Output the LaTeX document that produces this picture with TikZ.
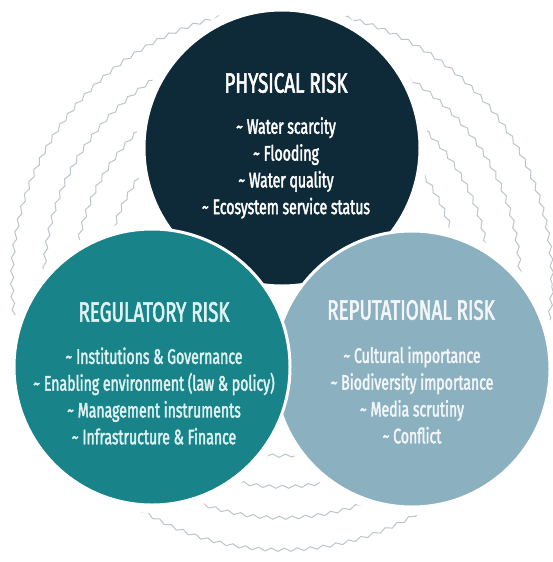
\documentclass[tikz,border=0pt]{standalone}
\usepackage{fontspec}
\setmainfont{Fira Sans}[FakeStretch=0.67, FakeBold=2]
\usetikzlibrary{decorations.pathmorphing}
\definecolor{navyc}{RGB}{14,42,57}
\definecolor{tealc}{RGB}{24,131,136}
\definecolor{lightc}{RGB}{139,176,191}
\definecolor{ringc}{RGB}{188,197,202}
\definecolor{tealtxt}{RGB}{222,242,242}
\definecolor{lighttxt}{RGB}{242,246,248}
\begin{document}
\begin{tikzpicture}[x=1pt,y=-1pt,
  ring/.style={draw=ringc, line width=1pt, decorate,
    decoration={snake, segment length=13pt, amplitude=1.6pt}},
  bigcircle/.style={circle, minimum size=276pt, draw=white, line width=3pt, inner sep=0pt},
  titletxt/.style={font=\fontsize{28}{30}\selectfont, inner sep=0pt},
  itemtxt/.style={font=\fontsize{21}{26.8}\selectfont, align=center, inner sep=0pt}]
\useasboundingbox (0,0) rectangle (553,562);
\fill[white] (0,0) rectangle (553,562);
% wavy rings
\foreach \r in {176,207,238,270}
  \draw[ring] (282,283) circle (\r pt);
% white halos
\fill[white] (282,148) circle (146pt);
\fill[white] (412,369) circle (146pt);
\fill[white] (152,367) circle (146pt);
% circles
\node[bigcircle, fill=navyc] (phys) at (282,148) {};
\node[bigcircle, fill=lightc] (repu) at (412,369) {};
\node[bigcircle, fill=tealc] (regu) at (152,367) {};
% texts
\node[titletxt, text=white] (physt) at (286,83) {PHYSICAL RISK};
\node[itemtxt, text=white] (physi) at (286,168) {\textasciitilde{} Water scarcity\\ \textasciitilde{} Flooding\\ \textasciitilde{} Water quality\\ \textasciitilde{} Ecosystem service status};
\node[titletxt, text=tealtxt] (regut) at (154,312) {REGULATORY RISK};
\node[itemtxt, text=tealtxt] (regui) at (154,396) {\textasciitilde{} Institutions \& Governance\\ \textasciitilde{} Enabling environment (law \& policy)\\ \textasciitilde{} Management instruments\\ \textasciitilde{} Infrastructure \& Finance};
\node[titletxt, text=lighttxt] (reput) at (411,310) {REPUTATIONAL RISK};
\node[itemtxt, text=lighttxt] (repui) at (412,395) {\textasciitilde{} Cultural importance\\ \textasciitilde{} Biodiversity importance\\ \textasciitilde{} Media scrutiny\\ \textasciitilde{} Conflict};
\end{tikzpicture}
\end{document}
